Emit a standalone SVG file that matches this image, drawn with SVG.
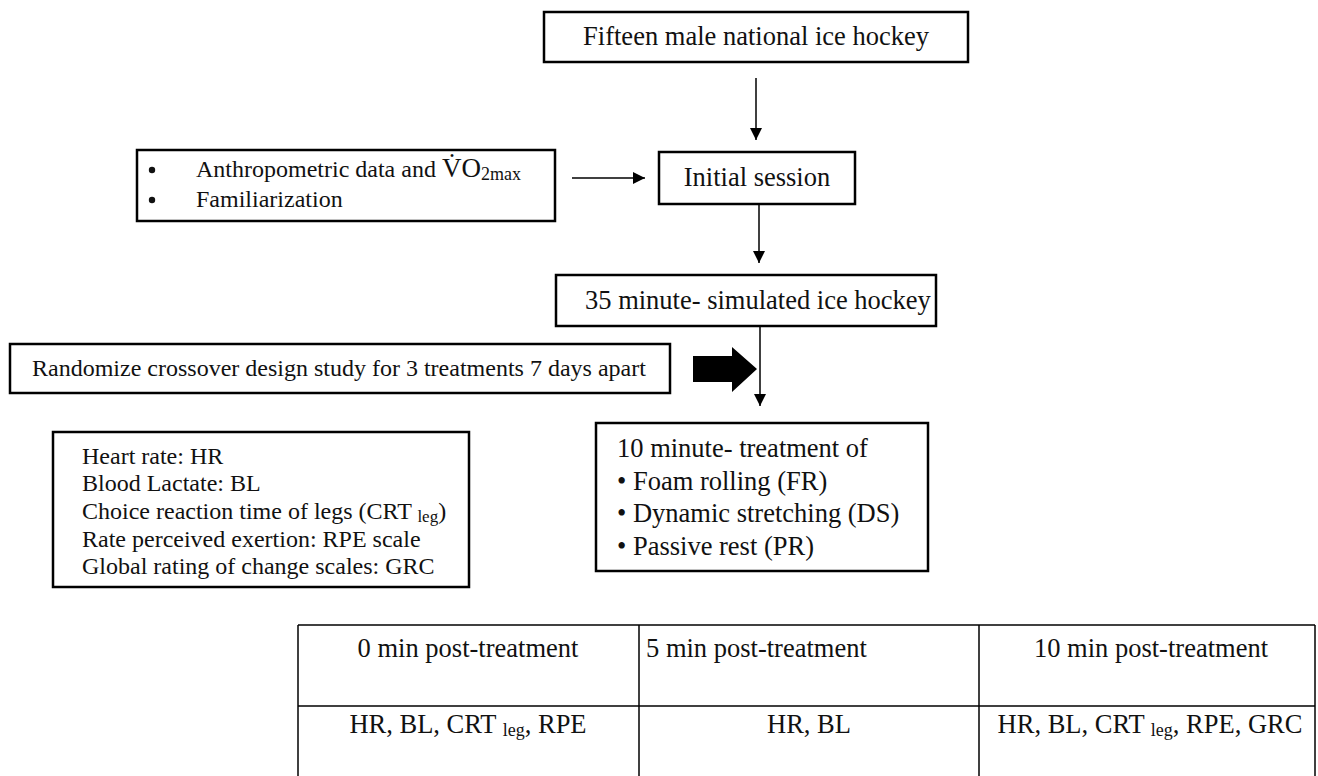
<svg xmlns="http://www.w3.org/2000/svg" width="1318" height="776" viewBox="0 0 1318 776">
<style>
.box{fill:#fff;stroke:#000;stroke-width:2.5}
.t{font-family:"Liberation Serif","Times New Roman",serif;fill:#111}
.f26{font-size:26.5px}
.f24{font-size:24px}
.con{stroke:#000;stroke-width:1.5;fill:none}
.tbl{stroke:#000;stroke-width:1.5;fill:none}
</style>
<defs>
<marker id="ah" viewBox="0 0 10 10" refX="10" refY="5" markerWidth="14" markerHeight="12" markerUnits="userSpaceOnUse" orient="auto">
<path d="M0,0 L10,5 L0,10 z" fill="#000"/>
</marker>
</defs>
<rect width="1318" height="776" fill="#fff"/>

<g id="connectors">
<line class="con" x1="756" y1="78" x2="756" y2="140" marker-end="url(#ah)"/>
<line class="con" x1="572" y1="178" x2="645" y2="178" marker-end="url(#ah)"/>
<line class="con" x1="759" y1="204" x2="759" y2="263" marker-end="url(#ah)"/>
<line class="con" x1="760" y1="326" x2="760" y2="406" marker-end="url(#ah)"/>
<polygon points="693,356 732,356 732,347 757,369 732,392 732,382 693,382" fill="#000"/>
</g>

<g id="node-participants">
<rect class="box" x="544" y="12" width="424" height="50"/>
<text class="t f26" x="756" y="45" text-anchor="middle">Fifteen male national ice hockey</text>
</g>

<g id="node-anthropometric">
<rect class="box" x="137" y="150" width="418" height="71"/>
<circle cx="152" cy="170" r="3.2" fill="#111"/>
<circle cx="152" cy="200" r="3.2" fill="#111"/>
<text class="t f24" x="196" y="177">Anthropometric data and <tspan font-size="27">V̇O</tspan><tspan font-size="18" dy="3">2max</tspan></text>
<text class="t f24" x="196" y="207">Familiarization</text>
</g>

<g id="node-initial">
<rect class="box" x="659" y="152" width="196" height="52"/>
<text class="t f26" x="757" y="186" text-anchor="middle">Initial session</text>
</g>

<g id="node-simulated">
<rect class="box" x="556" y="275" width="380" height="51"/>
<text class="t f26" x="585" y="309">35 minute- simulated ice hockey</text>
</g>

<g id="node-randomize">
<rect class="box" x="10" y="344" width="660" height="49"/>
<text class="t f24" x="32" y="376">Randomize crossover design study for 3 treatments 7 days apart</text>
</g>

<g id="node-measures">
<rect class="box" x="53" y="432" width="416" height="155"/>
<text class="t f24" x="82" y="464">Heart rate: HR</text>
<text class="t f24" x="82" y="491">Blood Lactate: BL</text>
<text class="t f24" x="82" y="519">Choice reaction time of legs (CRT <tspan font-size="17" dy="3">leg</tspan><tspan dy="-3">)</tspan></text>
<text class="t f24" x="82" y="547">Rate perceived exertion: RPE scale</text>
<text class="t f24" x="82" y="574">Global rating of change scales: GRC</text>
</g>

<g id="node-treatment">
<rect class="box" x="596" y="423" width="332" height="148"/>
<text class="t f26" x="617" y="457">10 minute- treatment of</text>
<text class="t f26" x="617" y="490">• Foam rolling (FR)</text>
<text class="t f26" x="617" y="522">• Dynamic stretching (DS)</text>
<text class="t f26" x="617" y="555">• Passive rest (PR)</text>
</g>

<g id="node-table">
<line class="tbl" x1="298" y1="625" x2="1315" y2="625"/>
<line class="tbl" x1="298" y1="706" x2="1315" y2="706"/>
<line class="tbl" x1="298" y1="625" x2="298" y2="776"/>
<line class="tbl" x1="639" y1="625" x2="639" y2="776"/>
<line class="tbl" x1="979" y1="625" x2="979" y2="776"/>
<line class="tbl" x1="1315" y1="625" x2="1315" y2="776"/>
<text class="t f26" x="468" y="657" text-anchor="middle">0 min post-treatment</text>
<text class="t f26" x="646" y="657">5 min post-treatment</text>
<text class="t f26" x="1151" y="657" text-anchor="middle">10 min post-treatment</text>
<text class="t f26" x="468" y="733" text-anchor="middle">HR, BL, CRT <tspan font-size="18" dy="3">leg</tspan><tspan dy="-3">, RPE</tspan></text>
<text class="t f26" x="809" y="733" text-anchor="middle">HR, BL</text>
<text class="t f26" x="1150" y="733" text-anchor="middle">HR, BL, CRT <tspan font-size="18" dy="3">leg</tspan><tspan dy="-3">, RPE, GRC</tspan></text>
</g>
</svg>
